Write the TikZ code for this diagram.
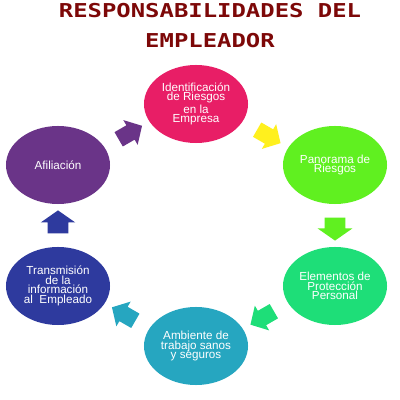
\documentclass[tikz,border=0pt]{standalone}
\usepackage{fontspec}
\setmainfont{Liberation Sans}
\newfontfamily\titlefont{DejaVu Sans Mono}
\usetikzlibrary{shapes.geometric,shapes.arrows,calc}
\definecolor{rojotit}{RGB}{125,8,8}
\definecolor{rosa}{RGB}{232,30,102}
\definecolor{lima}{RGB}{96,240,32}
\definecolor{verde}{RGB}{30,222,120}
\definecolor{celeste}{RGB}{38,166,192}
\definecolor{azul}{RGB}{46,58,158}
\definecolor{morado}{RGB}{106,52,136}
\definecolor{amarillo}{RGB}{255,240,30}
\tikzset{
  etapa/.style={ellipse, minimum width=2.6cm, minimum height=1.95cm, inner sep=0pt,
    text=white, align=center, font=\fontsize{8.3}{6.9}\selectfont},
  flecha/.style={single arrow, inner xsep=0pt, inner ysep=0.2cm, minimum height=0.675cm,
    single arrow head extend=0.15cm, single arrow tip angle=94},
  flechav/.style={flecha, inner ysep=0.25cm, minimum height=0.575cm,
    single arrow head extend=0.175cm, single arrow tip angle=110},
  titulo/.style={text=rojotit, font=\titlefont\bfseries\fontsize{17}{17}\selectfont}
}
\begin{document}
\begin{tikzpicture}[x=0.025cm,y=0.025cm]
    \fill[white] (0,0) rectangle (400,400);
    \useasboundingbox (0,0) rectangle (400,400);
    %
    \node[titulo] (tit1) at (210,389) {\scalebox{1}[0.8]{RESPONSABILIDADES DEL}};
    \node[titulo] (tit2) at (210,359) {\scalebox{1}[0.8]{EMPLEADOR}};
    %
    \node[etapa, fill=rosa]    (iden)  at (196,296) {Identificación\\de Riesgos\\en la\\Empresa};
    \node[etapa, fill=lima]    (pano)  at (335,235) {Panorama de\\Riesgos};
    \node[etapa, fill=verde]   (elem)  at (335,114) {Elementos de\\Protección\\Personal};
    \node[etapa, fill=celeste] (amb)   at (196,54)  {Ambiente de\\trabajo sanos\\y seguros};
    \node[etapa, fill=azul]    (trans) at (58,114)  {Transmisión\\de la\\información\\al\ \ Empleado};
    \node[etapa, fill=morado]  (afil)  at (58,235)  {Afiliación};
    %
    \node[flecha, fill=morado, rotate=30]     (f1) at ($(afil)!0.5!(iden)$) {};
    \node[flecha, fill=amarillo, rotate=-30]  (f2) at ($(iden)!0.5!(pano)$) {};
    \node[flechav, fill=lima, rotate=-90]     (f3) at ($(pano)!0.5!(elem)$) {};
    \node[flecha, fill=verde, rotate=210]     (f4) at ($(elem)!0.5!(amb)$) {};
    \node[flecha, fill=celeste, rotate=150]   (f5) at ($(amb)!0.5!(trans)$) {};
    \node[flechav, fill=azul, rotate=90]      (f6) at ($(trans)!0.5!(afil)$) {};
    %
\end{tikzpicture}
\end{document}
